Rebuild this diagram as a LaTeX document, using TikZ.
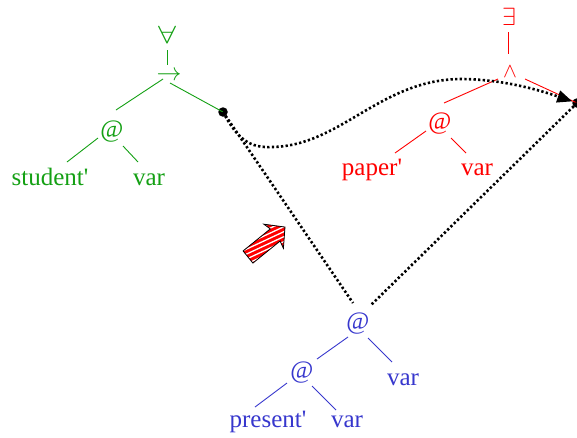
\documentclass[tikz,border=0pt]{standalone}
\usepackage{fontspec}
\usepackage{graphicx}
\setmainfont{Liberation Serif}[Ligatures=TeXOff]
\usetikzlibrary{calc,arrows.meta}
\definecolor{tgreen}{RGB}{20,160,20}
\definecolor{tred}{RGB}{255,0,0}
\definecolor{tblue}{RGB}{55,55,205}
\begin{document}
\begin{tikzpicture}[x=1pt,y=-1pt,
  lbl/.style={anchor=base, inner sep=0pt, font=\fontsize{25}{30}\selectfont},
  sym/.style={anchor=base, inner sep=0pt, font=\fontsize{25}{30}\selectfont},
  edge/.style={line width=0.9pt},
  dots/.style={line width=2.6pt, dash pattern=on 2.3pt off 2.3pt},
  bigdot/.style={circle, fill=black, inner sep=0pt, minimum size=9.5pt}]
\useasboundingbox (0,0) rectangle (577,437);

% green tree
\node[sym,tgreen] (gall) at (167,43) {\scalebox{1.3}[1]{$\forall$}};
\node[sym,tgreen] (gimp) at (169,80) {$\rightarrow$};
\node[lbl,tgreen] (gat) at (112,137) {@};
\node[lbl,tgreen] (gstud) at (50,185) {student'};
\node[lbl,tgreen] (gvar) at (149,185) {var};
\node[bigdot] (gdot) at (223,112) {};
\draw[edge,tgreen] ($(gall.base)+(0,7)$) -- ($(gimp.base)+(-2,-15)$);
\draw[edge,tgreen] ($(gimp.base)+(-6,-1)$) -- ($(gat.base)+(4,-27)$);
\draw[edge,tgreen] ($(gimp.base)+(1,3)$) -- (gdot.center);
\draw[edge,tgreen] ($(gat.base)+(-14,1)$) -- ($(gstud.base)+(17,-23)$);
\draw[edge,tgreen] ($(gat.base)+(11,9)$) -- ($(gvar.base)+(-11,-23)$);

% red tree
\node[sym,tred] (rex) at (509,25) {$\exists$};
\node[sym,tred,font=\fontsize{21}{24}\selectfont] (rand) at (510,77) {$\wedge$};
\node[lbl,tred] (rat) at (440,129) {@};
\node[lbl,tred] (rpaper) at (372,175) {paper'};
\node[lbl,tred] (rvar) at (477,175) {var};
\node[bigdot] (rdot) at (577,103) {};
\draw[edge,tred] ($(rex.base)+(-1,7)$) -- ($(rand.base)+(-2,-23)$);
\draw[edge,tred] ($(rand.base)+(-12,2)$) -- ($(rat.base)+(4,-26)$);
\draw[edge,tred] ($(rand.base)+(15,2)$) -- (rdot.center);
\draw[edge,tred] ($(rat.base)+(-14,2)$) -- ($(rpaper.base)+(23,-22)$);
\draw[edge,tred] ($(rat.base)+(11,9)$) -- ($(rvar.base)+(-11,-22)$);

% blue tree
\node[lbl,tblue] (bat) at (358,329) {@};
\node[lbl,tblue] (bat2) at (302,378) {@};
\node[lbl,tblue] (bvar) at (403,385) {var};
\node[lbl,tblue] (bpres) at (268,427) {present'};
\node[lbl,tblue] (bvar2) at (347,427) {var};
\draw[edge,tblue] ($(bat.base)+(-10,8)$) -- ($(bat2.base)+(15,-19)$);
\draw[edge,tblue] ($(bat.base)+(10,9)$) -- ($(bvar.base)+(-11,-23)$);
\draw[edge,tblue] ($(bat2.base)+(-15,5)$) -- ($(bpres.base)+(-13,-20)$);
\draw[edge,tblue] ($(bat2.base)+(10,8)$) -- ($(bvar2.base)+(-11,-17)$);

% dotted connectors
\draw[dots] (gdot.center) -- ($(bat.base)+(-5,-26)$);
\draw[dots] (rdot.center) -- ($(bat.base)+(13,-24)$);
\draw[dots,-{Triangle[length=15pt,width=12pt]},shorten >=5pt] (gdot.center)
  .. controls (238,140) and (250,148) .. (272,147)
  .. controls (340,146) and (380,80) .. (460,79)
  .. controls (505,79) and (545,92) .. (rdot.center);

% striped block arrow
\begin{scope}
  \clip[shift={(248,257)},rotate=39] (0,-7.8) -- (35,-7.8) -- (33,-15.5) -- (47.6,0) -- (33,15.5) -- (35,7.8) -- (0,7.8) -- cycle;
  \fill[tred] (200,200) rectangle (300,300);
  \begin{scope}[shift={(266,240)},rotate=25]
    \foreach \s in {-36,-31.5,...,36} \draw[white,line width=1.3pt] (-60,\s) -- (60,\s);
  \end{scope}
\end{scope}
\draw[line width=0.8pt,line join=miter,shift={(248,257)},rotate=39] (0,-7.8) -- (35,-7.8) -- (33,-15.5) -- (47.6,0) -- (33,15.5) -- (35,7.8) -- (0,7.8) -- cycle;
\end{tikzpicture}
\end{document}
